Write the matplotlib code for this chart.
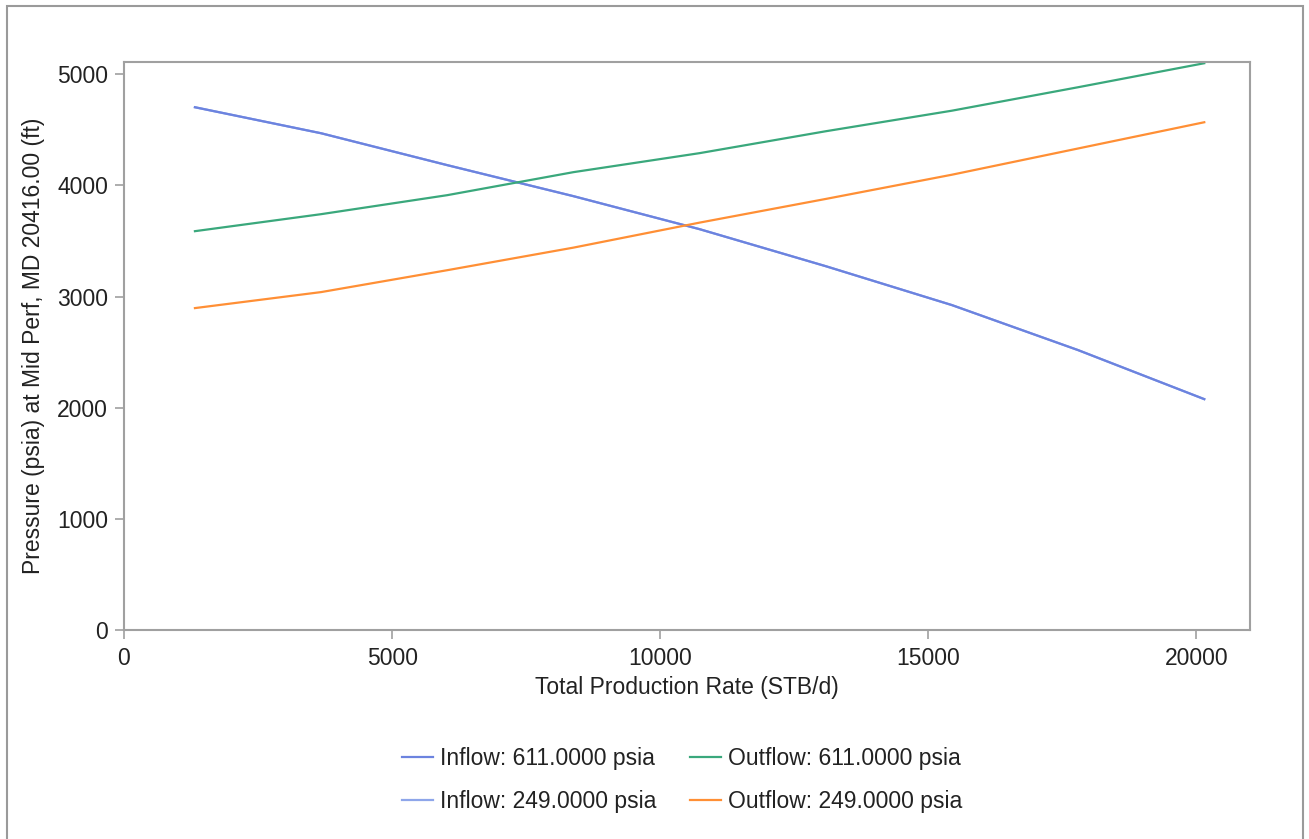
import matplotlib
matplotlib.use("Agg")
import matplotlib.pyplot as plt
from matplotlib.patches import Rectangle

plt.rcParams['font.family'] = ['Liberation Sans', 'DejaVu Sans']

# Total production rate (STB/d)
rate = [1323, 3676, 6029, 8382, 10735, 13088, 15441, 17794, 20147]

# Bottom-hole pressure at mid perf (psia)
inflow_611 = [4703, 4469, 4182, 3903, 3606, 3273, 2923, 2518, 2077]
inflow_249 = [4703, 4469, 4182, 3903, 3606, 3273, 2923, 2518, 2077]
outflow_611 = [3588, 3741, 3912, 4119, 4290, 4487, 4672, 4883, 5099]
outflow_249 = [2896, 3040, 3237, 3440, 3665, 3878, 4096, 4332, 4568]

labels = ["Inflow: 611.0000 psia", "Inflow: 249.0000 psia",
          "Outflow: 611.0000 psia", "Outflow: 249.0000 psia"]
colors = ["#6c83df", "#8ea6ea", "#3aa87c", "#ff8f35"]

W, H = 1309, 839
fig = plt.figure(figsize=(W / 100, H / 100), dpi=100)

# outer frame
fig.patches.append(Rectangle((7 / W, -0.02), (1303 - 7) / W, 1 - 6 / H + 0.02,
                             transform=fig.transFigure, fill=False,
                             edgecolor="#9a9a9a", linewidth=1.5))

ax = fig.add_axes([124 / W, 1 - 630 / H, (1250 - 124) / W, (630 - 62) / H])

series = [inflow_249, inflow_611, outflow_611, outflow_249]
order = [1, 0, 2, 3]
handles = {}
for idx, ys in zip(order, series):
    ln, = ax.plot(rate, ys, color=colors[idx], linewidth=1.6, label=labels[idx])
    handles[idx] = ln

ax.set_xlim(0, 21000)
ax.set_ylim(0, 5110)
ax.set_xticks([0, 5000, 10000, 15000, 20000])
ax.set_yticks([0, 1000, 2000, 3000, 4000, 5000])

for s in ax.spines.values():
    s.set_color("#a0a0a0")
    s.set_linewidth(1.5)
ax.tick_params(axis="both", colors="#a0a0a0", labelcolor="#222222",
               labelsize=16.5, length=6.5, width=1.2, direction="out")
ax.tick_params(axis="x", pad=6)
ax.tick_params(axis="y", pad=5)

ax.set_xlabel("Total Production Rate (STB/d)", fontsize=16.5, color="#222222", labelpad=4)
ax.set_ylabel("Pressure (psia) at Mid Perf, MD 20416.00 (ft)", fontsize=16.5,
              color="#222222", labelpad=9)

fig.legend([handles[i] for i in range(4)], labels, ncol=2,
           loc="upper center", bbox_to_anchor=(682 / W, 1 - 726 / H),
           frameon=False, fontsize=16.5, handlelength=1.35, handletextpad=0.3,
           columnspacing=1.5, labelspacing=0.9, labelcolor="#222222")

fig.savefig("out.png", dpi=100, facecolor="white")
